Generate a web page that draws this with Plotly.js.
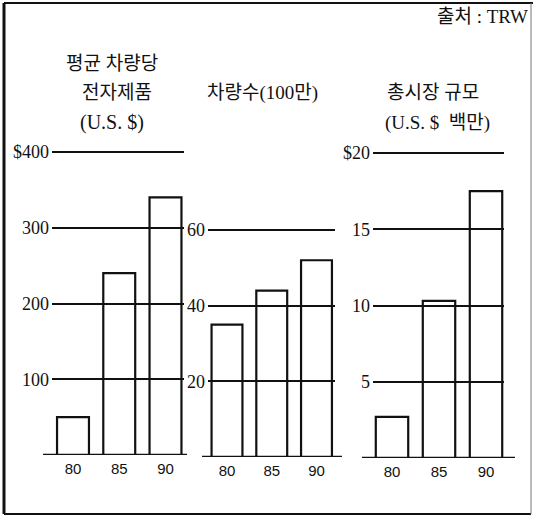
<!DOCTYPE html>
<html>
<head>
<meta charset="utf-8">
<script src="https://cdn.plot.ly/plotly-3.0.1.min.js"></script>
<style>
html,body{margin:0;padding:0;background:#fff;}
#chart{width:533px;height:519px;}
</style>
</head>
<body>
<div id="chart"></div>
<script>
// ---- data ----
const years = ['80', '85', '90'];
const perVehicleUSD = [50, 240, 340];      // 평균 차량당 전자제품 (U.S. $)
const vehiclesMillion = [35, 44, 52];       // 차량수 (100만)
const marketMillionUSD = [2.7, 10.3, 17.5]; // 총시장 규모 (U.S. $ 백만)

const ticks1 = [100, 200, 300, 400];
const tickText1 = ['100', '200', '300', '$400'];
const ticks2 = [20, 40, 60];
const tickText2 = ['20', '40', '60'];
const ticks3 = [5, 10, 15, 20];
const tickText3 = ['5', '10', '15', '$20'];

// ---- layout helpers ----
const W = 533, H = 519;
const px = x => x / W;
const py = y => 1 - y / H;

const serif = '"Liberation Serif", "DejaVu Serif", "Noto Sans CJK KR", serif';
const sans = '"Liberation Sans", Arial, sans-serif';
const kr = '"Liberation Serif", "Noto Sans CJK KR", serif';

const panels = [
  {vals: perVehicleUSD, ticks: ticks1, text: tickText1, top: 400, gx0: 52, gx1: 184, c0: 73, step: 46.25, y0: 455, yTop: 152, b0: 43, b1: 187},
  {vals: vehiclesMillion, ticks: ticks2, text: tickText2, top: 60, gx0: 208, gx1: 335, c0: 227, step: 44.75, y0: 457, yTop: 230, b0: 202, b1: 342},
  {vals: marketMillionUSD, ticks: ticks3, text: tickText3, top: 20, gx0: 373, gx1: 504, c0: 392, step: 47, y0: 458, yTop: 153, b0: 362, b1: 515}
];

const data = [];
const layout = {
  width: W, height: H,
  margin: {l: 0, r: 0, t: 0, b: 0},
  paper_bgcolor: '#fff', plot_bgcolor: 'rgba(0,0,0,0)',
  showlegend: false,
  bargap: 0,
  shapes: [],
  annotations: []
};

const pad = 1.03; // headroom so the top grid line is not on the domain edge

panels.forEach((p, i) => {
  const n = i === 0 ? '' : String(i + 1);
  data.push({
    type: 'bar',
    x: [0, 1, 2],
    y: p.vals,
    width: 0.69,
    xaxis: 'x' + n, yaxis: 'y' + n,
    marker: {color: 'rgba(0,0,0,0)', line: {color: '#111', width: 2.2}},
    hoverinfo: 'skip',
    cliponaxis: false
  });
  layout['xaxis' + n] = {
    domain: [px(p.gx0), px(p.gx1)],
    range: [(p.gx0 - p.c0) / p.step, (p.gx1 - p.c0) / p.step],
    anchor: 'y' + n,
    tickvals: [0, 1, 2], ticktext: years,
    ticks: '', showgrid: false, zeroline: false, showline: false,
    tickfont: {family: sans, size: 15, color: '#111'},
    ticklabelstandoff: 3,
    fixedrange: true
  };
  const topPx = p.y0 - (p.y0 - p.yTop) * pad;
  layout['yaxis' + n] = {
    domain: [py(p.y0), py(topPx)],
    range: [0, p.top * pad],
    anchor: 'x' + n,
    tickvals: p.ticks, ticktext: p.text,
    ticks: '', showgrid: true, gridcolor: '#111', gridwidth: 2,
    zeroline: false, showline: false,
    tickfont: {family: serif, size: 18, color: '#111'},
    ticklabelstandoff: 2,
    fixedrange: true
  };
  layout.shapes.push({
    type: 'line', xref: 'paper', yref: 'y' + n,
    x0: px(p.b0), x1: px(p.b1), y0: 0, y1: 0,
    line: {color: '#111', width: 2.5}
  });
});

// frame
layout.shapes.push(
  {type: 'line', xref: 'paper', yref: 'paper', x0: px(4), x1: px(4), y0: py(3), y1: py(514), line: {color: '#111', width: 3}},
  {type: 'line', xref: 'paper', yref: 'paper', x0: px(4), x1: px(533), y0: py(3), y1: py(3), line: {color: '#111', width: 2}},
  {type: 'line', xref: 'paper', yref: 'paper', x0: px(4), x1: px(531), y0: py(514), y1: py(514), line: {color: '#111', width: 2}},
  {type: 'line', xref: 'paper', yref: 'paper', x0: px(531), x1: px(531), y0: py(3), y1: py(514), line: {color: '#777', width: 1}}
);

function note(text, x, y, size, family, xanchor) {
  layout.annotations.push({
    text: text, xref: 'paper', yref: 'paper', x: px(x), y: py(y),
    xanchor: xanchor || 'center', yanchor: 'middle', showarrow: false,
    font: {family: family || kr, size: size || 19, color: '#111'}
  });
}

note('출처 : TRW', 530, 17, 19, kr, 'right');
note('평균 차량당', 112, 63, 19);
note('전자제품', 117, 93, 19);
note('(U.S. $)', 112, 123, 20, serif);
note('차량수(100만)', 262, 93, 19);
note('총시장 규모', 433, 93, 19);
note('(U.S. $  백만)', 437, 123, 19);

Plotly.newPlot('chart', data, layout, {displayModeBar: false, staticPlot: true});
</script>
</body>
</html>
